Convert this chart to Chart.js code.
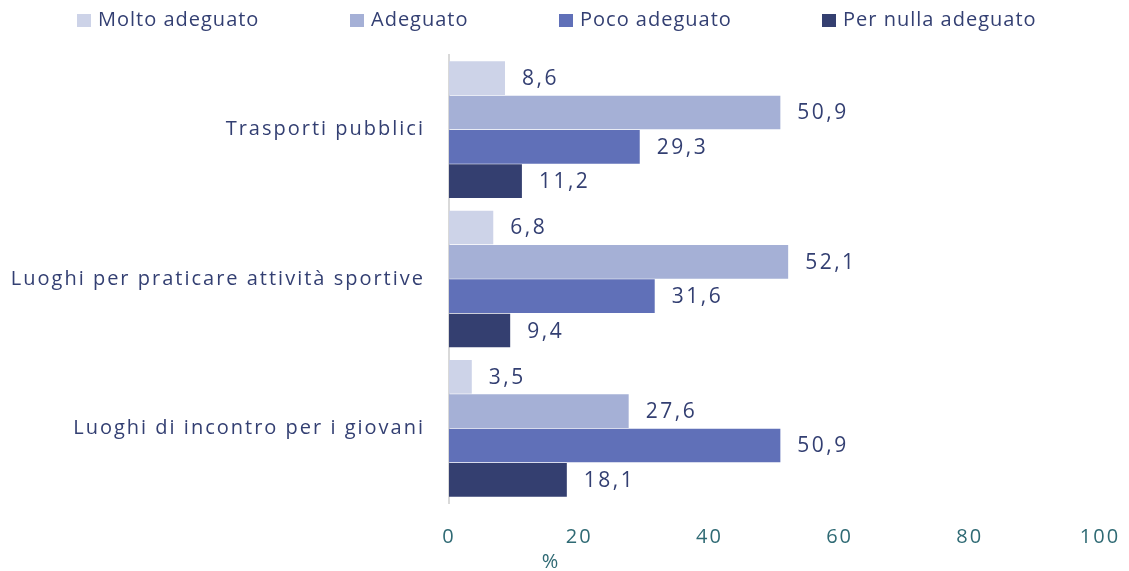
<!DOCTYPE html>
<html>
<head>
<meta charset="utf-8">
<script src="https://cdn.jsdelivr.net/npm/chart.js@4/dist/chart.umd.min.js"></script>
<style>
  html, body { margin: 0; padding: 0; background: #fff; }
  #wrap { width: 1129px; height: 571px; }
</style>
</head>
<body>
<div id="wrap"><canvas id="myChart" width="1129" height="571"></canvas></div>
<script>
// categories and series
var categories = ["Trasporti pubblici", "Luoghi per praticare attività sportive", "Luoghi di incontro per i giovani"];
var seriesNames = ["Molto adeguato", "Adeguato", "Poco adeguato", "Per nulla adeguato"];
var moltoAdeguato = [8.6, 6.8, 3.5];
var adeguato = [50.9, 52.1, 27.6];
var pocoAdeguato = [29.3, 31.6, 50.9];
var perNullaAdeguato = [11.2, 9.4, 18.1];
var xTicks = [0, 20, 40, 60, 80, 100];
var barColors = ['#cdd3e8', '#a5b0d6', '#6070b8', '#343f70'];

var textColor = '#333f72';
var axisColor = '#2f6a74';
var fontFamily = '"Open Sans", "Noto Sans", sans-serif';

// spaced-out lettering like the original export
var spacing = {
  id: 'spacing',
  beforeDraw: function(chart) { chart.ctx.letterSpacing = '2px'; }
};

// legend drawn by hand so the items sit where they do in the original
var legendX = [77, 350, 559, 822];
var manualLegend = {
  id: 'manualLegend',
  afterDraw: function(chart) {
    var c = chart.ctx;
    c.save();
    c.letterSpacing = '1px';
    c.font = '20px ' + fontFamily;
    c.textAlign = 'left';
    c.textBaseline = 'middle';
    chart.data.datasets.forEach(function(ds, i) {
      c.fillStyle = ds.backgroundColor;
      c.fillRect(legendX[i], 14, 14, 13);
      c.fillStyle = textColor;
      c.fillText(ds.label, legendX[i] + 21, 20);
    });
    c.restore();
  }
};

// value labels next to the bars, comma as decimal separator
var valueLabels = {
  id: 'valueLabels',
  afterDatasetsDraw: function(chart) {
    var c = chart.ctx;
    c.save();
    c.letterSpacing = '2.5px';
    c.font = '21px ' + fontFamily;
    c.fillStyle = textColor;
    c.textAlign = 'left';
    c.textBaseline = 'middle';
    chart.data.datasets.forEach(function(ds, i) {
      chart.getDatasetMeta(i).data.forEach(function(bar, j) {
        c.fillText(ds.data[j].toFixed(1).replace('.', ','), bar.x + 17, bar.y + 1);
      });
    });
    c.restore();
  }
};

// "%" under the x axis, left of centre like the original
var percentLabel = {
  id: 'percentLabel',
  afterDraw: function(chart) {
    var c = chart.ctx;
    c.save();
    c.letterSpacing = '0px';
    c.font = '20px ' + fontFamily;
    c.fillStyle = axisColor;
    c.textAlign = 'center';
    c.textBaseline = 'middle';
    c.fillText('%', chart.chartArea.left + 101, 562);
    c.restore();
  }
};

var ctx = document.getElementById('myChart').getContext('2d');
var myChart = new Chart(ctx, {
  type: 'bar',
  data: {
    labels: categories,
    datasets: [
      { label: seriesNames[0], data: moltoAdeguato, backgroundColor: barColors[0] },
      { label: seriesNames[1], data: adeguato, backgroundColor: barColors[1] },
      { label: seriesNames[2], data: pocoAdeguato, backgroundColor: barColors[2] },
      { label: seriesNames[3], data: perNullaAdeguato, backgroundColor: barColors[3] }
    ]
  },
  options: {
    indexAxis: 'y',
    responsive: false,
    animation: false,
    layout: { padding: { left: 10, right: 29, top: 55, bottom: 0 } },
    datasets: {
      bar: { categoryPercentage: 0.92, barPercentage: 0.98 }
    },
    plugins: {
      legend: { display: false },
      tooltip: { enabled: false }
    },
    scales: {
      x: {
        min: 0,
        max: 100,
        afterBuildTicks: function(scale) {
          scale.ticks = xTicks.map(function(v) { return { value: v }; });
        },
        afterFit: function(scale) { scale.paddingRight = 0; scale.paddingLeft = 0; },
        grid: { display: false, drawTicks: false },
        border: { display: false },
        ticks: {
          padding: 22,
          color: axisColor,
          font: { family: fontFamily, size: 20 }
        }
      },
      y: {
        grid: { display: false, drawTicks: false },
        border: { display: true, color: '#d9d9d9', width: 2 },
        afterFit: function(scale) { scale.width = 439; },
        ticks: {
          padding: 24,
          color: textColor,
          font: { family: fontFamily, size: 20 }
        }
      }
    }
  },
  plugins: [spacing, valueLabels, percentLabel, manualLegend]
});
</script>
</body>
</html>
